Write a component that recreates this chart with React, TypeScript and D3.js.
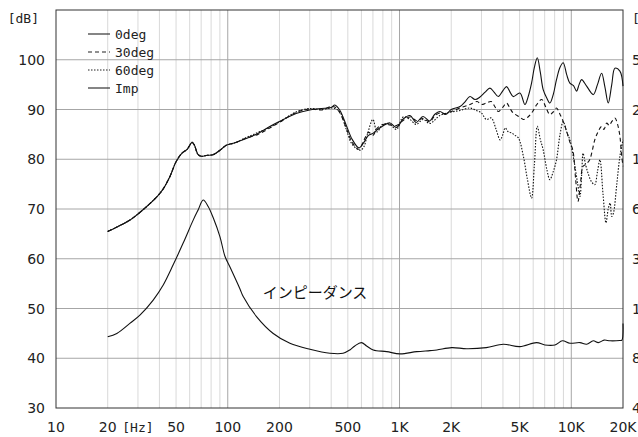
import * as d3 from 'd3'

// [freq Hz, dB]
const deg0: [number, number][] = [
  [20, 65.5], [23, 66.5], [27, 67.8], [30, 69.0], [34, 70.6], [39, 72.6], [42, 74.0], [46, 76.5],
  [50, 79.5], [54, 81.2], [58, 82.0], [62, 83.4], [64, 82.8], [67, 81.0], [70, 80.6], [76, 80.8],
  [82, 80.9], [90, 81.8], [98, 82.8], [110, 83.3], [125, 84.0], [150, 85.2], [180, 86.8], [200, 87.6],
  [250, 89.2], [300, 89.9], [350, 90.2], [400, 90.4], [420, 90.9], [450, 89.8], [490, 86.8], [530, 84.0],
  [580, 82.3], [620, 83.4], [660, 84.8], [700, 85.2], [740, 85.9], [800, 86.7], [880, 87.3], [960, 86.4],
  [1050, 88.1], [1150, 88.8], [1250, 87.4], [1370, 88.6], [1500, 87.7], [1600, 89.0], [1720, 89.6],
  [1850, 89.0], [2000, 90.0], [2250, 90.6], [2400, 91.5], [2570, 92.6], [2750, 92.0], [2940, 92.5],
  [3150, 93.5], [3360, 94.3], [3550, 93.5], [3760, 92.6], [4000, 93.8], [4200, 94.6], [4400, 93.5],
  [4590, 92.6], [5020, 93.3], [5370, 91.0], [5600, 92.5], [5870, 95.3], [6100, 98.5], [6340, 100.4],
  [6600, 97.5], [6860, 94.0], [7200, 92.3], [7500, 91.3], [7850, 93.0], [8200, 96.0], [8600, 98.5],
  [8970, 99.4], [9400, 97.0], [9810, 95.3], [10300, 94.8], [10730, 93.7], [11100, 95.0], [11480, 96.0],
  [12280, 94.7], [13430, 93.0], [14200, 95.0], [15010, 97.3], [15700, 94.5], [16410, 91.3], [17200, 95.0],
  [17950, 98.3], [19190, 97.7], [20000, 94.7],
]

const deg30: [number, number][] = [
  [20, 65.5], [23, 66.5], [27, 67.8], [30, 69.0], [34, 70.6], [39, 72.6], [42, 74.0], [46, 76.5],
  [50, 79.5], [54, 81.2], [58, 82.0], [62, 83.4], [64, 82.8], [67, 81.0], [70, 80.6], [76, 80.8],
  [82, 80.9], [90, 81.8], [98, 82.8], [110, 83.3], [125, 84.1], [150, 85.0], [180, 86.5], [200, 87.4],
  [250, 89.4], [300, 90.1], [350, 89.9], [400, 90.6], [420, 90.5], [450, 89.3], [490, 86.2], [530, 83.4],
  [580, 82.0], [620, 83.8], [660, 85.4], [700, 84.8], [740, 86.2], [800, 87.0], [880, 86.9], [960, 86.8],
  [1050, 87.8], [1150, 88.5], [1250, 87.8], [1370, 88.2], [1500, 87.5], [1600, 88.7], [1720, 89.3],
  [1850, 89.2], [2000, 89.6], [2250, 90.3], [2570, 91.0], [2830, 91.6], [3000, 91.0], [3200, 91.3],
  [3420, 91.6], [3600, 90.5], [3760, 89.6], [4000, 90.5], [4200, 91.3], [4400, 90.2], [4590, 89.3],
  [5000, 88.5], [5260, 88.0], [5600, 88.5], [5960, 89.6], [6300, 91.0], [6730, 92.0], [7100, 90.5],
  [7500, 89.0], [7850, 89.5], [8200, 90.3], [8600, 89.0], [8970, 87.6], [9340, 85.9], [9800, 83.5],
  [10200, 81.9], [10600, 76.0], [10940, 71.5], [11300, 75.0], [11710, 78.6], [12200, 79.0], [12800, 79.9],
  [13200, 81.5], [13700, 83.9], [14300, 85.5], [15010, 86.6], [15500, 86.0], [16080, 87.3], [16600, 86.8],
  [17230, 87.6], [17950, 88.3], [18600, 87.0], [19190, 84.6], [19600, 81.0], [20000, 78.6],
]

const deg60: [number, number][] = [
  [20, 65.5], [23, 66.5], [27, 67.8], [30, 69.0], [34, 70.6], [39, 72.6], [42, 74.0], [46, 76.5],
  [50, 79.5], [54, 81.2], [58, 82.0], [62, 83.4], [64, 82.8], [67, 81.0], [70, 80.6], [76, 80.8],
  [82, 80.9], [90, 81.8], [98, 82.8], [110, 83.3], [125, 84.2], [150, 85.4], [180, 86.6], [200, 87.5],
  [250, 89.5], [300, 90.2], [350, 90.0], [400, 90.3], [420, 90.2], [450, 89.5], [490, 86.0], [530, 83.0],
  [590, 81.8], [620, 82.5], [650, 85.0], [700, 88.0], [740, 85.5], [800, 87.0], [880, 87.0], [960, 86.0],
  [1050, 88.5], [1150, 88.0], [1250, 87.0], [1370, 88.0], [1500, 87.2], [1720, 88.8], [2000, 89.5],
  [2250, 89.8], [2570, 90.3], [2800, 89.8], [3000, 89.3], [3200, 88.0], [3420, 88.3], [3650, 86.0],
  [3850, 83.9], [4000, 85.0], [4120, 86.3], [4300, 85.5], [4500, 85.3], [4700, 84.8], [4920, 84.3],
  [5260, 80.6], [5550, 76.0], [5870, 72.2], [6100, 79.0], [6340, 86.6], [6600, 84.0], [6860, 81.9],
  [7200, 78.0], [7500, 75.9], [7850, 77.5], [8200, 79.9], [8600, 85.0], [8970, 87.6], [9400, 85.5],
  [9810, 83.9], [10150, 81.5], [10500, 78.6], [10900, 75.0], [11230, 72.5], [11500, 77.0], [11710, 81.2],
  [12100, 79.0], [12520, 77.2], [13100, 75.5], [13700, 74.9], [14200, 77.5], [14680, 79.9], [15300, 73.0],
  [15920, 67.2], [16400, 70.0], [16830, 71.2], [17200, 68.5], [17600, 69.2], [18400, 75.0], [19190, 80.6],
  [20000, 83.9],
]

// [freq Hz, ohm]
const imp: [number, number][] = [
  [20, 10.8], [22.6, 11.3], [26.9, 13.0], [30.8, 14.6], [36.8, 18.0], [42.1, 22.2], [48.1, 29.4],
  [55, 39.8], [63, 55], [67.3, 63.3], [71.9, 72.5], [76.9, 66.3], [82.4, 56.4], [90, 43.6], [96.4, 33.0],
  [103, 28.5], [117.8, 21.0], [123, 18.9], [147, 14.3], [184, 11.3], [230, 9.86], [301, 9.07], [393, 8.58],
  [469, 8.58], [514, 8.98], [549, 9.5], [600, 9.95], [643, 9.5], [703, 8.98], [842, 8.77], [1006, 8.5],
  [1259, 8.77], [1503, 8.9], [1650, 8.98], [2010, 9.28], [2460, 9.14], [3200, 9.28], [4020, 9.72],
  [5020, 9.41], [6280, 9.95], [7020, 9.63], [8030, 9.63], [8880, 10.2], [9810, 9.86], [11230, 9.95],
  [12280, 9.73], [13430, 10.2], [14360, 9.95], [15530, 10.3], [16830, 10.2], [19190, 10.25], [19700, 10.3],
  [20000, 13.0],
]

const xTicks = [10, 20, 50, 100, 200, 500, 1000, 2000, 5000, 10000, 20000]
const xTickLabels = ['10', '20', '50', '100', '200', '500', '1K', '2K', '5K', '10K', '20K']
const yTicks = [30, 40, 50, 60, 70, 80, 90, 100]
const impTicks = [4, 8, 16, 32, 64, 128, 256, 512]
const legendItems = [
  { name: '0deg', dash: '' },
  { name: '30deg', dash: '4,3' },
  { name: '60deg', dash: '1.5,1.5' },
  { name: 'Imp', dash: '' },
]

const W = 638
const H = 437
const L = 56, R = 623, T = 10, B = 408

export default function App() {
  const x = d3.scaleLog().domain([10, 20000]).range([L, R])
  const y = d3.scaleLinear().domain([30, 110]).range([B, T])
  const yImp = d3.scaleLog().base(2).domain([4, 1024]).range([B, T])

  const minor: number[] = []
  for (const dec of [10, 100, 1000, 10000]) {
    for (let m = 2; m <= 9; m++) if (dec * m < 20000) minor.push(dec * m)
  }

  const line = d3.line<[number, number]>()
    .x(d => x(d[0]))
    .y(d => y(d[1]))
    .curve(d3.curveCatmullRom.alpha(0.5))
  const impLine = d3.line<[number, number]>()
    .x(d => x(d[0]))
    .y(d => yImp(d[1]))
    .curve(d3.curveCatmullRom.alpha(0.5))

  const mono = '"DejaVu Sans Mono", monospace'
  const sans = '"DejaVu Sans", sans-serif'

  return (
    <div style={{ position: 'absolute', left: 0, top: 0, width: W, height: H, overflow: 'hidden' }}>
      <svg width={W} height={H} style={{ display: 'block', background: '#fff' }}>
        {minor.map(f => (
          <line key={'m' + f} x1={x(f)} x2={x(f)} y1={T} y2={B} stroke="#d9d9d9" strokeWidth={1} />
        ))}
        {[100, 1000, 10000].map(f => (
          <line key={'d' + f} x1={x(f)} x2={x(f)} y1={T} y2={B} stroke="#a6a6a6" strokeWidth={1} />
        ))}
        {yTicks.slice(1).map(v => (
          <line key={'h' + v} x1={L} x2={R} y1={y(v)} y2={y(v)} stroke="#a6a6a6" strokeWidth={1} />
        ))}
        <rect x={L} y={T} width={R - L} height={B - T} fill="none" stroke="#333" strokeWidth={1} />

        <path d={impLine(imp) ?? ''} fill="none" stroke="#111" strokeWidth={1.1} />
        <path d={line(deg60) ?? ''} fill="none" stroke="#111" strokeWidth={1.1} strokeDasharray="1.5,1.5" />
        <path d={line(deg30) ?? ''} fill="none" stroke="#111" strokeWidth={1.1} strokeDasharray="4,3" />
        <path d={line(deg0) ?? ''} fill="none" stroke="#111" strokeWidth={1.1} />

        {yTicks.map(v => (
          <text key={'yl' + v} x={45} y={y(v)} dy="0.36em" textAnchor="end" fontFamily={sans} fontSize={14} fill="#222">{v}</text>
        ))}
        <text x={39} y={18} dy="0.36em" textAnchor="end" fontFamily={mono} fontSize={13} fill="#222">[dB]</text>

        {impTicks.map(v => (
          <text key={'il' + v} x={632} y={yImp(v)} dy="0.36em" fontFamily={sans} fontSize={14} fill="#222">{v}</text>
        ))}
        <text x={632} y={18} dy="0.36em" fontFamily={mono} fontSize={13} fill="#222">[Ω]</text>

        {xTicks.map((f, i) => (
          <text key={'xl' + f} x={x(f)} y={427} dy="0.36em" textAnchor="middle" fontFamily={sans} fontSize={14} fill="#222">{xTickLabels[i]}</text>
        ))}
        <text x={x(30)} y={427} dy="0.36em" textAnchor="middle" fontFamily={mono} fontSize={13} fill="#222">[Hz]</text>

        {legendItems.map((it, i) => (
          <g key={it.name} transform={`translate(0,${34 + i * 18})`}>
            <line x1={88} x2={110} y1={0} y2={0} stroke="#222" strokeWidth={1.1} strokeDasharray={it.dash || undefined} />
            <text x={115} y={0} dy="0.36em" fontFamily={mono} fontSize={13} fill="#222">{it.name}</text>
          </g>
        ))}

        <text x={315} y={293} dy="0.36em" textAnchor="middle" fontFamily='"Noto Sans CJK JP", sans-serif' fontSize={15} fill="#111">インピーダンス</text>
      </svg>
    </div>
  )
}
